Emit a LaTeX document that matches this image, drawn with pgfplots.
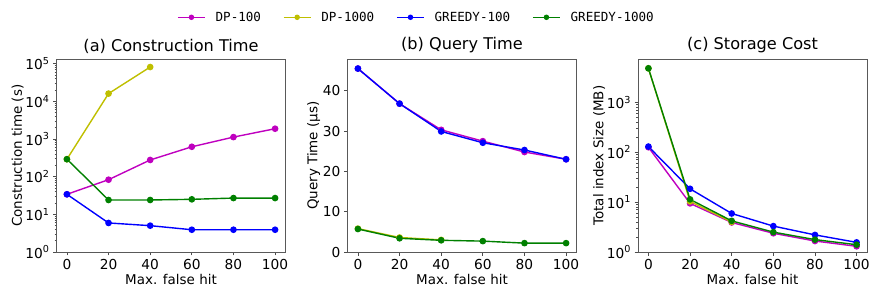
\documentclass[border=0pt]{standalone}
\usepackage{fontspec}
\setmainfont{DejaVu Sans}
\newfontfamily\monofont{DejaVu Sans Mono}
\usepackage{pgfplots}
\pgfplotsset{compat=1.18}
\definecolor{cM}{rgb}{0.75,0,0.75}
\definecolor{cY}{rgb}{0.75,0.75,0}
\definecolor{cB}{rgb}{0,0,1}
\definecolor{cG}{rgb}{0,0.5,0}
\pgfplotsset{
  every axis/.style={
    scale only axis, width=229bp, height=192.7bp, anchor=south west,
    /pgf/number format/assume math mode=true,
    axis line style={black!65, line width=0.8bp},
    tick style={black!70, line width=0.7bp},
    tick align=outside, tick pos=left,
    major tick length=3.5bp, minor tick length=2bp,
    xmin=-5, xmax=105, xtick={0,20,40,60,80,100},
    ticklabel style={font=\fontsize{13.8}{15}\selectfont},
    label style={font=\fontsize{13.5}{15}\selectfont},
    title style={font=\fontsize{16.2}{18}\selectfont, yshift=-3.5bp},
    xlabel={Max. false hit},
    xlabel style={yshift=2bp},
    every axis plot/.append style={line width=1.4bp, mark=*, mark size=2.6bp, mark options={solid}},
  },
}
\begin{document}
\begin{tikzpicture}[x=1bp,y=1bp]
\useasboundingbox (0,0) rectangle (872,300);
% (a)
\begin{axis}[at={(56.5bp,48bp)}, ymode=log, ymin=1, ymax=130000,
  ytick={1,10,100,1000,10000,100000},
  yticklabels={10\textsuperscript{0},10\textsuperscript{1},10\textsuperscript{2},10\textsuperscript{3},10\textsuperscript{4},10\textsuperscript{5}},
  title={(a) Construction Time},
  ylabel={Construction time (s)},
  ylabel style={at={(axis description cs:-0.170,0.5)}, anchor=center},
]
\addplot[cM] coordinates {(0,34) (20,83) (40,277) (60,620) (80,1120) (100,1870)};
\addplot[cY] coordinates {(0,290) (20,16000) (40,81000)};
\addplot[cB] coordinates {(0,34) (20,5.9) (40,5.0) (60,3.9) (80,3.9) (100,3.9)};
\addplot[cG] coordinates {(0,290) (20,24) (40,24) (60,25) (80,27) (100,27)};
\end{axis}
% (b)
\begin{axis}[at={(347.5bp,48bp)}, ymin=0, ymax=47.8,
  ytick={0,10,20,30,40},
  title={(b) Query Time},
  ylabel={Query Time (µs)},
  ylabel style={at={(axis description cs:-0.148,0.5)}, anchor=center},
  legend columns=4,
  legend cell align=left,
  legend style={at={(axis description cs:0.297,1.218)}, anchor=center, draw=none, fill=none,
    font=\monofont\fontsize{12.6}{14}\selectfont, inner sep=0pt,
    nodes={inner sep=0pt},
    /tikz/every odd column/.append style={column sep=10bp},
    /tikz/every even column/.append style={column sep=22bp}},
  legend image code/.code={\draw[mark repeat=2,mark phase=2,mark size=2bp,line width=1.4bp] plot coordinates {(0,0) (13.5bp,0) (27bp,0)};},
]
\addplot[cM] coordinates {(0,45.5) (20,36.8) (40,30.3) (60,27.5) (80,24.8) (100,23.0)};
\addlegendentry{DP-100}
\addplot[cY] coordinates {(0,5.8) (20,3.6) (40,3.0)};
\addlegendentry{DP-1000}
\addplot[cB] coordinates {(0,45.5) (20,36.8) (40,29.9) (60,27.1) (80,25.3) (100,23.0)};
\addlegendentry{GREEDY-100}
\addplot[cG] coordinates {(0,5.7) (20,3.4) (40,2.9) (60,2.7) (80,2.2) (100,2.2)};
\addlegendentry{GREEDY-1000}
\end{axis}
% (c)
\begin{axis}[at={(638bp,48bp)}, ymode=log, ymin=1, ymax=7200,
  ytick={1,10,100,1000},
  yticklabels={10\textsuperscript{0},10\textsuperscript{1},10\textsuperscript{2},10\textsuperscript{3}},
  title={(c) Storage Cost},
  ylabel={Total index Size (MB)},
  ylabel style={at={(axis description cs:-0.170,0.5)}, anchor=center},
]
\addplot[cM] coordinates {(0,125) (20,9.4) (40,3.9) (60,2.37) (80,1.66) (100,1.30)};
\addplot[cY] coordinates {(0,4750) (20,10.3) (40,4.0)};
\addplot[cB] coordinates {(0,129) (20,18.4) (40,5.9) (60,3.3) (80,2.2) (100,1.56)};
\addplot[cG] coordinates {(0,4750) (20,11.3) (40,4.2) (60,2.5) (80,1.77) (100,1.40)};
\end{axis}
\end{tikzpicture}
\end{document}
